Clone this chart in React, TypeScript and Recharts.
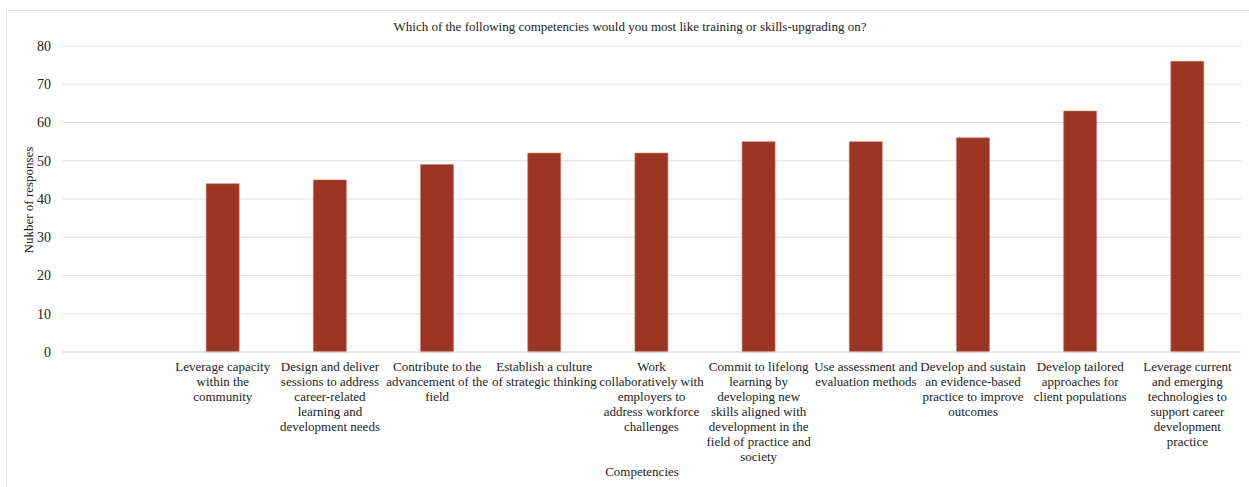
import { Bar, BarChart, CartesianGrid, XAxis, YAxis } from 'recharts';

// first slot is blank in the source chart
const competencies = [
    '',
    'Leverage capacity\nwithin the\ncommunity',
    'Design and deliver\nsessions to address\ncareer-related\nlearning and\ndevelopment needs',
    'Contribute to the\nadvancement of the\nfield',
    'Establish a culture\nof strategic thinking',
    'Work\ncollaboratively with\nemployers to\naddress workforce\nchallenges',
    'Commit to lifelong\nlearning by\ndeveloping new\nskills aligned with\ndevelopment in the\nfield of practice and\nsociety',
    'Use assessment and\nevaluation methods',
    'Develop and sustain\nan evidence-based\npractice to improve\noutcomes',
    'Develop tailored\napproaches for\nclient populations',
    'Leverage current\nand emerging\ntechnologies to\nsupport career\ndevelopment\npractice',
];
const responses: (number | null)[] = [null, 44, 45, 49, 52, 52, 55, 55, 56, 63, 76];
const yTicks = [0, 10, 20, 30, 40, 50, 60, 70, 80];

const data = competencies.map((name, i) => ({ name, responses: responses[i] }));

const FONT = '"Liberation Serif", "Times New Roman", serif';

function CategoryTick({ x, y, payload }: any) {
    const lines: string[] = String(payload.value).split('\n');
    return (
        <text x={x} y={y} textAnchor="middle" fontFamily={FONT} fontSize={13} fill="#222">
            {lines.map((line, i) => (
                <tspan key={i} x={x} dy={i === 0 ? 11 : 15}>{line}</tspan>
            ))}
        </text>
    );
}

export default function App() {
    return (
        <div style={{ position: 'absolute', left: 0, top: 0, width: 1249, height: 487, background: '#fff', fontFamily: FONT }}>
            <div style={{ position: 'absolute', left: 6, top: 10, right: 0, bottom: 0, borderTop: '1.5px solid #e2e2e2', borderLeft: '1.5px solid #e2e2e2' }} />
            <BarChart
                width={1249}
                height={487}
                data={data}
                margin={{ top: 46, right: 8, bottom: 0, left: 12 }}
                barCategoryGap={37}
            >
                <CartesianGrid vertical={false} stroke="#e0e0e0" strokeWidth={1.2} />
                <XAxis
                    dataKey="name"
                    interval={0}
                    tickLine={false}
                    axisLine={{ stroke: '#e0e0e0', strokeWidth: 1.2 }}
                    tick={<CategoryTick />}
                    height={135}
                />
                <YAxis
                    domain={[0, 80]}
                    ticks={yTicks}
                    width={50}
                    tickLine={false}
                    axisLine={false}
                    tickMargin={5}
                    tick={{ fill: '#222', fontSize: 14, fontFamily: FONT }}
                />
                <Bar dataKey="responses" fill="#9c3522" stroke="#c47b6e" strokeWidth={0.6} isAnimationActive={false} />
                <text x={630} y={31} textAnchor="middle" fontFamily={FONT} fontSize={13} fill="#222">
                    Which of the following competencies would you most like training or skills-upgrading on?
                </text>
                <text x={33} y={200} transform="rotate(-90 33 200)" textAnchor="middle" fontFamily={FONT} fontSize={13} fill="#222">
                    Nukber of responses
                </text>
                <text x={642} y={476} textAnchor="middle" fontFamily={FONT} fontSize={13} fill="#222">
                    Competencies
                </text>
            </BarChart>
        </div>
    );
}
